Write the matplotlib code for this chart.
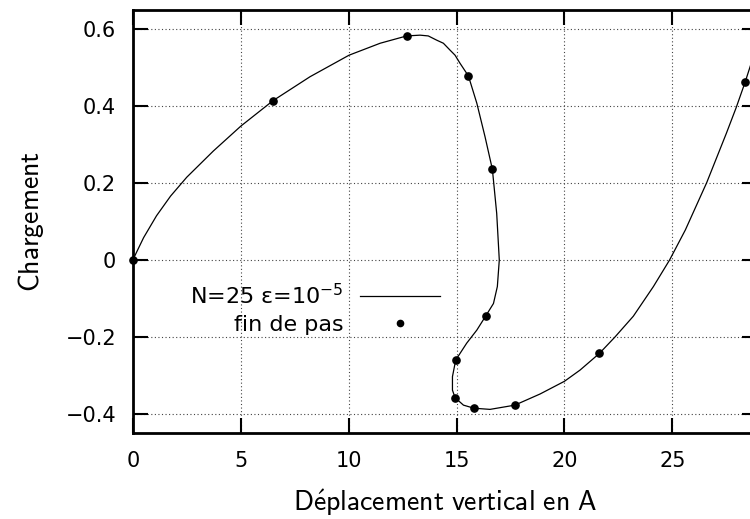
import matplotlib
matplotlib.use("Agg")
import matplotlib.pyplot as plt
from matplotlib.lines import Line2D

# Continuous path
curve_x = [0.0, 0.50, 1.10, 1.75, 2.50, 3.73, 5.01, 6.50, 8.21, 10.02, 11.46, 12.69,
           13.31, 13.69, 14.08, 14.39, 14.70, 14.93, 15.16, 15.55, 15.94, 16.32, 16.66,
           16.86, 16.98, 16.89, 16.71, 16.35, 15.94, 15.47, 14.96, 14.81, 14.81, 14.93,
           15.32, 15.81, 16.55, 17.70, 18.87, 20.0, 20.72, 21.62, 22.34, 23.19, 24.12,
           24.87, 25.60, 26.59, 27.50, 27.95, 28.37, 28.6, 28.95]
curve_y = [0.0, 0.058, 0.115, 0.166, 0.215, 0.283, 0.348, 0.414, 0.476, 0.532, 0.563, 0.582,
           0.584, 0.582, 0.571, 0.563, 0.545, 0.532, 0.511, 0.478, 0.407, 0.320, 0.2355,
           0.121, 0.0, -0.069, -0.113, -0.1455, -0.182, -0.216, -0.260, -0.303, -0.338, -0.3576,
           -0.377, -0.385, -0.388, -0.377, -0.348, -0.315, -0.286, -0.2425, -0.2, -0.146, -0.069,
           0.0, 0.078, 0.201, 0.329, 0.395, 0.462, 0.502, 0.565]

# End-of-step points
step_x = [0.0, 6.50, 12.69, 15.55, 16.66, 16.35, 14.96, 14.93, 15.81, 17.70, 21.62, 28.37]
step_y = [0.0, 0.414, 0.582, 0.478, 0.2355, -0.1455, -0.260, -0.3576, -0.385, -0.377, -0.2425, 0.462]

xticks = [0, 5, 10, 15, 20, 25]
xtick_labels = ["0", "5", "10", "15", "20", "25"]
yticks = [-0.4, -0.2, 0, 0.2, 0.4, 0.6]
ytick_labels = ["\u22120.4", "\u22120.2", "0", "0.2", "0.4", "0.6"]

curve_label = r"N=25 ε=10$^{-5}$"
step_label = "fin de pas"
xlabel = r"$\mathsf{D\acute{e}placement\ vertical\ en\ A}$"
ylabel = r"$\mathsf{Chargement}$"

plt.rcParams['font.family'] = ['DejaVu Sans']

fig = plt.figure(figsize=(7.5, 5.19), dpi=100)
ax = fig.add_axes([132.8 / 750, 1 - 433.25 / 519, 624.2 / 750, 423.5 / 519])

ax.plot(curve_x, curve_y, color='black', lw=0.9, zorder=3, solid_joinstyle='round')
ax.plot(step_x, step_y, linestyle='none', marker='o', ms=5.2, color='black',
        clip_on=False, zorder=4)

ax.set_xlim(0, 28.92)
ax.set_ylim(-0.45, 0.65)
ax.set_xticks(xticks)
ax.set_xticklabels(xtick_labels)
ax.set_yticks(yticks)
ax.set_yticklabels(ytick_labels)

ax.grid(True, color='#444444', linestyle=(0, (1, 2.2)), linewidth=0.8, zorder=1)
ax.tick_params(direction='in', length=10.8, width=1.5, top=True, right=True,
               labelsize=15, color='black')
ax.tick_params(axis='x', pad=12.5)
ax.tick_params(axis='y', pad=12)
for s in ax.spines.values():
    s.set_linewidth(2.0)

ax.set_xlabel(xlabel, fontsize=20, labelpad=12, math_fontfamily='cm')
ax.set_ylabel(ylabel, fontsize=20, labelpad=14, math_fontfamily='cm')

handles = [Line2D([], [], color='black', lw=0.9),
           Line2D([], [], linestyle='none', marker='o', ms=4.5, color='black')]
leg = ax.legend(handles, [curve_label, step_label], loc='upper right',
                bbox_to_anchor=((440 - 132.8) / 624.2, (433.25 - 283) / 423.5),
                frameon=False, markerfirst=False, fontsize=16, handlelength=3.6,
                handletextpad=0.75, borderpad=0, borderaxespad=0, labelspacing=0.3)
for t in leg.get_texts():
    t.set_ha('right')

fig.savefig("out.png", dpi=100)
